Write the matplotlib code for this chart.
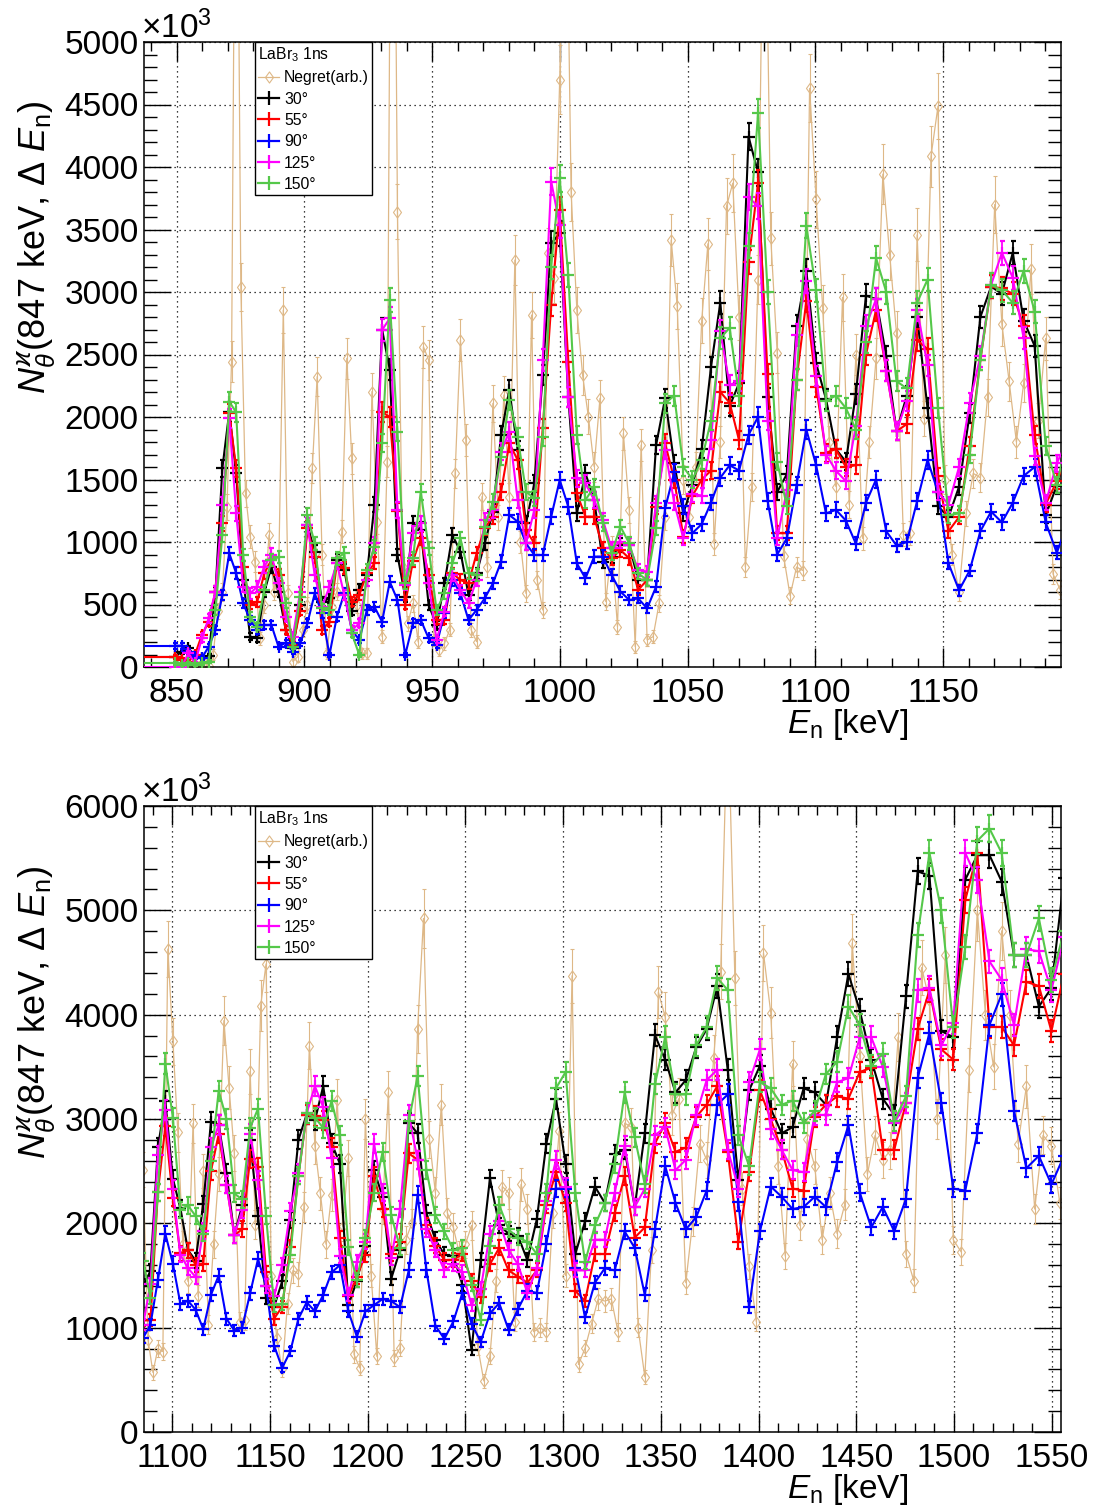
import numpy as np
import matplotlib
matplotlib.use("Agg")
import matplotlib.pyplot as plt
from matplotlib.ticker import MultipleLocator
from matplotlib.lines import Line2D
from matplotlib.path import Path

plt.rcParams['font.family'] = ['Liberation Sans', 'DejaVu Sans']
plt.rcParams['mathtext.fontset'] = 'custom'
plt.rcParams['mathtext.rm'] = 'Liberation Sans'
plt.rcParams['mathtext.it'] = 'Liberation Sans:italic'
plt.rcParams['mathtext.bf'] = 'Liberation Sans:bold'
plt.rcParams['mathtext.sf'] = 'Liberation Sans'
plt.rcParams['mathtext.fallback'] = 'stixsans'

# ---------------------------------------------------------------------------
# Binning: equal flight-time bins, i.e. uniform steps in 1/sqrt(E)
# ---------------------------------------------------------------------------
BIN_U0 = 0.034314        # 1/sqrt(E [keV]) of the first LaBr3 bin
BIN_DU = 5.274e-5        # step in 1/sqrt(E) per LaBr3 bin
NEG_U0 = 0.0345777       # 1/sqrt(E) of Negret grid point 0
NEG_DU = 3.516e-5        # step in 1/sqrt(E) per Negret point
NEG_FIRST = 12           # first Negret grid point with data
FIRST_EDGE = 800.0       # lower edge of the first (wide) LaBr3 bin [keV]

# ---------------------------------------------------------------------------
# N_theta (847 keV, dE_n) per angle, x10^3
# ---------------------------------------------------------------------------
deg30 = [
    83, 120, 150, 90, 70, 90, 600, 1590, 2040, 1550,
    700, 243, 229, 600, 800, 603, 296, 150, 500, 1136,
    923, 520, 549, 856, 780, 450, 620, 736, 1300, 2700,
    2380, 896, 563, 1149, 1100, 496, 336, 669, 1056, 923,
    576, 749, 989, 1243, 1856, 2216, 1736, 1149, 1469, 2336,
    3389, 3469, 2163, 1229, 1549, 1336, 843, 883, 976, 976,
    696, 696, 1776, 2149, 1629, 1229, 1457, 1743, 2400, 2914,
    2086, 2271, 4243, 3957, 2157, 1400, 1543, 2729, 3171, 2429,
    2143, 1743, 1643, 2186, 2971, 2943, 2486, 1886, 2171, 2800,
    2071, 1286, 1200, 1443, 2029, 2800, 3043, 2986, 3314, 2771,
    2569, 1214, 1451, 1784, 2510, 2255, 1471, 1745, 2961, 2863,
    2098, 1843, 1700, 1686, 1412, 784, 1647, 2431, 1980, 1902,
    1882, 1647, 2039, 2765, 3196, 2569, 1706, 2020, 2353, 2196,
    2667, 2706, 2157, 2863, 3804, 3569, 3255, 3373, 3686, 3863,
    4275, 3471, 2412, 3275, 3510, 3100, 2863, 2922, 3294, 3255,
    3137, 3784, 4392, 4039, 3569, 3196, 3039, 4176, 5373, 5333,
    3843, 3784, 5294, 5529, 5529, 5275, 4569, 4569, 4078, 4255,
    5314]

deg55 = [
    83, 56, 43, 100, 256, 363, 603, 1149, 2029, 1589,
    800, 500, 520, 750, 856, 736, 296, 176, 450, 1109,
    883, 296, 363, 829, 789, 523, 576, 749, 829, 2040,
    2000, 1250, 500, 850, 1029, 736, 376, 376, 749, 696,
    669, 909, 1109, 1203, 1403, 1789, 1656, 1096, 989, 1909,
    2900, 3656, 2443, 1389, 1203, 1203, 949, 869, 936, 869,
    616, 696, 1283, 1789, 1500, 1043, 1371, 1500, 1571, 2200,
    2114, 1814, 3243, 3871, 2343, 1071, 1071, 2300, 2929, 2243,
    1714, 1743, 1600, 1614, 2500, 2857, 2371, 1886, 1943, 2614,
    2543, 1529, 1086, 1200, 1771, 2457, 3043, 3029, 2986, 2729,
    1857, 1300, 1486, 1700, 2451, 2137, 1706, 1824, 2670, 2610,
    1980, 1785, 1647, 1650, 1706, 1451, 1294, 1608, 1765, 1549,
    1490, 1431, 1549, 2176, 2490, 2196, 1353, 1255, 1706, 1706,
    2098, 2451, 1863, 1961, 2765, 2961, 2686, 2726, 3020, 3137,
    3314, 2686, 1824, 2490, 3275, 3000, 2706, 2333, 2314, 3020,
    3137, 3216, 3196, 3451, 3490, 2706, 2706, 3157, 3863, 4235,
    3667, 3569, 5098, 5549, 3882, 3882, 3706, 4314, 4275, 3843,
    4392]

deg90 = [
    170, 170, 122, 82, 72, 162, 296, 576, 909, 750,
    509, 376, 296, 336, 336, 162, 194, 122, 189, 349,
    589, 429, 96, 402, 589, 296, 216, 456, 482, 362,
    682, 536, 96, 349, 376, 229, 176, 429, 696, 589,
    376, 456, 549, 669, 843, 1216, 1163, 989, 896, 896,
    1203, 1496, 1283, 829, 709, 883, 883, 736, 603, 536,
    549, 469, 643, 1269, 1557, 1286, 1072, 1143, 1314, 1514,
    1614, 1572, 1857, 2000, 1329, 900, 1029, 1457, 1900, 1614,
    1229, 1257, 1172, 986, 1314, 1500, 1086, 972, 1000, 1329,
    1657, 1400, 829, 614, 772, 1086, 1243, 1157, 1314, 1529,
    1600, 1157, 914, 1157, 1216, 1275, 1255, 1196, 1549, 2275,
    1549, 1020, 892, 1060, 1333, 1039, 863, 1137, 1235, 980,
    1177, 1353, 1333, 1804, 2333, 2333, 1569, 1098, 1431, 1569,
    1549, 1922, 1765, 1314, 1941, 2549, 2196, 1941, 2059, 2314,
    3137, 3235, 2200, 1196, 1922, 2353, 2255, 2137, 2157, 2255,
    2157, 2588, 2941, 2294, 1961, 2157, 1922, 2235, 3392, 3824,
    3157, 2333, 2314, 2863, 3902, 4196, 3078, 2529, 2647, 2373,
    2647]

deg125 = [
    0, 0, 109, 30, 229, 389, 603, 1296, 1989, 1229,
    643, 589, 643, 803, 900, 669, 403, 243, 600, 1136,
    736, 483, 643, 829, 576, 296, 349, 696, 989, 2696,
    2789, 1256, 656, 1069, 1149, 669, 216, 443, 736, 616,
    509, 696, 1176, 1256, 1723, 1883, 1336, 989, 1256, 2456,
    3883, 3536, 2163, 1509, 1469, 1336, 1176, 949, 1003, 976,
    776, 763, 1309, 1736, 1314, 1029, 1386, 1371, 1814, 2686,
    2257, 2286, 3757, 3686, 1971, 1029, 1414, 2657, 3086, 2329,
    1700, 1571, 1486, 1929, 2729, 2943, 2371, 1886, 2129, 2857,
    2414, 1400, 1300, 1600, 2114, 2486, 3057, 3314, 3114, 2629,
    1686, 1314, 1629, 1824, 2765, 2294, 1667, 2137, 3039, 2608,
    1941, 1745, 1549, 1608, 1530, 1216, 1373, 1902, 2020, 1745,
    1608, 1333, 1569, 2216, 2608, 2353, 1549, 1549, 1843, 1843,
    2294, 2745, 2157, 2333, 2843, 2922, 2510, 2608, 3039, 3373,
    3471, 2706, 2333, 3353, 3667, 2902, 2706, 2510, 2490, 3039,
    3039, 3353, 3392, 3784, 3784, 3500, 2961, 3157, 4235, 4255,
    3706, 3922, 5549, 5294, 4510, 4333, 3902, 4627, 4608, 4235,
    4745]

deg150 = [
    29, 16, 29, 16, 29, 43, 456, 1056, 2123, 2037,
    896, 403, 323, 616, 856, 880, 509, 163, 563, 1216,
    989, 469, 456, 869, 909, 269, 96, 776, 963, 1789,
    2936, 1883, 669, 869, 1403, 949, 456, 589, 829, 1029,
    749, 736, 1123, 1323, 1683, 2136, 1843, 1403, 1349, 1843,
    3203, 3909, 3136, 1856, 1336, 1443, 1149, 909, 1123, 989,
    749, 696, 1109, 2109, 2171, 1600, 1500, 1657, 1971, 2629,
    2714, 2171, 3371, 4429, 3000, 1643, 1286, 2300, 3529, 3014,
    2129, 2171, 2071, 1900, 2600, 3271, 3000, 2286, 2229, 2914,
    3100, 2071, 1214, 1229, 1700, 2457, 3057, 3014, 2914, 3171,
    2843, 1771, 1457, 1863, 2294, 2686, 2078, 1765, 2980, 3412,
    2510, 2078, 1922, 1745, 1765, 1412, 1078, 1784, 2176, 1941,
    1863, 1824, 1706, 2294, 3294, 3451, 2294, 1627, 1980, 2196,
    2569, 3255, 2824, 2373, 3333, 3784, 3235, 3235, 3706, 3882,
    4353, 4235, 2843, 2549, 3353, 3294, 3137, 3176, 2961, 3078,
    3431, 3549, 4078, 3902, 3510, 3627, 2981, 3216, 4765, 5549,
    5000, 3882, 4647, 5667, 5784, 5549, 4569, 4569, 4922, 4333,
    4804]

# Negret et al. cross section, arbitrary scale
negret = [
    20, 10, 30, 10, 100, 450, 600, 1280, 2443, 8000,
    3043, 1389, 1043, 843, 229, 500, 1056, 603, 700, 2856,
    589, 43, 83, 296, 496, 1589, 2323, 900, 109, 483,
    603, 1083, 2469, 1669, 496, 109, 109, 2203, 1163, 243,
    1643, 9000, 3643, 800, 349, 509, 200, 2563, 2456, 216,
    136, 189, 300, 1549, 2616, 1816, 296, 203, 1363, 800,
    2109, 1200, 2176, 1363, 3256, 1000, 589, 2816, 696, 456,
    3309, 3109, 4700, 7000, 3800, 2856, 2336, 2003, 1603, 2149,
    523, 963, 323, 1869, 1256, 163, 1776, 216, 243, 509,
    1200, 3416, 2886, 1500, 1200, 1600, 2771, 3386, 986, 1800,
    3686, 3871, 2800, 800, 1443, 3100, 7000, 3429, 2514, 886,
    571, 800, 771, 4629, 3743, 2871, 1800, 1443, 2957, 1300,
    2500, 1029, 1800, 2471, 3943, 3300, 2671, 1057, 1071, 3457,
    1986, 4086, 4486, 1500, 900, 600, 1229, 1549, 1514, 2157,
    3700, 2743, 2286, 1800, 2271, 3186, 1971, 2629, 743, 614,
    3000, 1500, 725, 2137, 3255, 706, 804, 1843, 2000, 3863,
    4922, 2804, 2294, 3137, 2100, 1961, 1706, 1800, 1980, 824,
    490, 726, 1451, 2353, 2294, 1059, 2373, 2137, 961, 1000,
    961, 2098, 2883, 1500, 4373, 647, 804, 1039, 1275, 1255,
    1275, 961, 2961, 2922, 1000, 529, 1745, 4216, 3981, 3039,
    3196, 1431, 2020, 2765, 2608, 3588, 4412, 7000, 4353, 2333,
    1588, 1059, 4589, 4020, 2549, 1686, 3530, 1980, 2804, 2549,
    1843, 2294, 1902, 2176, 4687, 3608, 2471, 2843, 2608, 2700,
    3784, 1706, 1451, 4451, 4137, 3000, 4569, 1843, 1725, 3471,
    5000, 4000, 3500, 4804, 4000, 2765, 3314, 2137, 2843, 2745,
    2196]

angle_labels = ['30°', '55°', '90°', '125°', '150°']
angle_colors = ['#000000', '#FF0000', '#0000FF', '#FF00FF', '#55C84A']
TAN = '#DEB887'

# ---------------------------------------------------------------------------
e_bins = 1.0 / (BIN_U0 - BIN_DU * np.arange(len(deg30))) ** 2
neg_idx = np.arange(NEG_FIRST, NEG_FIRST + len(negret))
e_neg = 1.0 / (NEG_U0 - NEG_DU * neg_idx) ** 2

series = [np.asarray(s, float) for s in (deg30, deg55, deg90, deg125, deg150)]
neg_vals = np.asarray(negret, float)
neg_err = 0.05 * neg_vals + 40.0          # quoted uncertainty of the reference data

DIAMOND = Path([(0, -1), (0.72, 0), (0, 1), (-0.72, 0), (0, -1)],
               [Path.MOVETO, Path.LINETO, Path.LINETO, Path.LINETO, Path.CLOSEPOLY])

W, H = 1097, 1510
fig = plt.figure(figsize=(W / 100, H / 100), dpi=100)
FS = 24
FS_YLAB = 26

ylabel = r'$N_{\theta}^{ϰ}$(847 keV, $\Delta$ $E_{\mathrm{n}}$)'
xlabel = r'$E_{\mathrm{n}}$ [keV]'


def draw_panel(ax, xlim, ylim, ymajor, yminor):
    ax.errorbar(e_neg, neg_vals, yerr=neg_err, color=TAN, lw=0.9,
                marker=DIAMOND, ms=8, mfc='none', mec=TAN, mew=0.8,
                elinewidth=0.8, capsize=1.5, capthick=0.8, zorder=2)
    for z, (vals, col) in enumerate(zip(series, angle_colors)):
        err = 1.7 * np.sqrt(vals)          # counting-statistics uncertainty
        ax.errorbar(e_bins, vals, yerr=err, color=col, lw=1.5, marker='+',
                    ms=8, mew=1.6, elinewidth=1.3, capsize=1.8,
                    capthick=1.3, zorder=3 + z)
        ax.errorbar(e_bins[:1], vals[:1], xerr=[[e_bins[0] - FIRST_EDGE], [0]],
                    fmt='none', ecolor=col, elinewidth=1.5, capsize=0,
                    zorder=3 + z)
    ax.set_xlim(*xlim)
    ax.set_ylim(*ylim)
    ax.xaxis.set_major_locator(MultipleLocator(50))
    ax.xaxis.set_minor_locator(MultipleLocator(10))
    ax.yaxis.set_major_locator(MultipleLocator(ymajor))
    ax.yaxis.set_minor_locator(MultipleLocator(yminor))
    ax.grid(True, which='major', color='black', linestyle=(0, (1, 3)),
            linewidth=0.9)
    ax.set_axisbelow(True)
    ax.tick_params(which='both', direction='in', top=True, right=True,
                   labelsize=FS, width=1.0)
    ax.tick_params(axis='y', which='major', length=19.5, pad=4)
    ax.tick_params(axis='y', which='minor', length=9.7)
    ax.tick_params(axis='x', which='major', length=13.5, pad=8)
    ax.tick_params(axis='x', which='minor', length=6.8)
    for sp in ax.spines.values():
        sp.set_linewidth(1.1)

    handles = [Line2D([], [], color=TAN, lw=0.9, marker=DIAMOND, ms=8,
                      mfc='none', mec=TAN, mew=0.8)]
    handles += [Line2D([], [], color=c, lw=1.6, marker='|', ms=10, mew=1.6)
                for c in angle_colors]
    labels = ['Negret(arb.)'] + angle_labels
    leg = ax.legend(handles, labels, title=r'LaBr$_{3}$ 1ns',
                    loc='upper left',
                    bbox_to_anchor=(255 / W, ax.get_position().y1),
                    bbox_transform=fig.transFigure, fontsize=11.3,
                    title_fontsize=11.3, frameon=True, fancybox=False,
                    edgecolor='black', framealpha=1, borderpad=0.22,
                    labelspacing=0.4, handlelength=1.3, handletextpad=0.32,
                    borderaxespad=0, alignment='left')
    leg.get_frame().set_linewidth(1.0)
    leg.set_zorder(20)


ax1 = fig.add_axes([144 / W, 1 - 667 / H, 917 / W, 625 / H])
draw_panel(ax1, (837.2, 1196.1), (0, 5000), 500, 100)

ax2 = fig.add_axes([144 / W, 1 - 1432 / H, 917 / W, 626 / H])
draw_panel(ax2, (1085.5, 1554.8), (0, 6000), 1000, 200)

for base_y, lab_top, xl_base in ((38, 100, 733), (802, 865, 1498)):
    fig.text(141 / W, 1 - base_y / H, r'$\times$10$^{3}$', fontsize=FS,
             ha='left', va='baseline')
    fig.text(37 / W, 1 - lab_top / H, ylabel, rotation=90, fontsize=FS_YLAB,
             ha='center', va='top')
    fig.text(908 / W, 1 - xl_base / H, xlabel, fontsize=FS, ha='right',
             va='baseline')

fig.savefig('out.png', dpi=100)
